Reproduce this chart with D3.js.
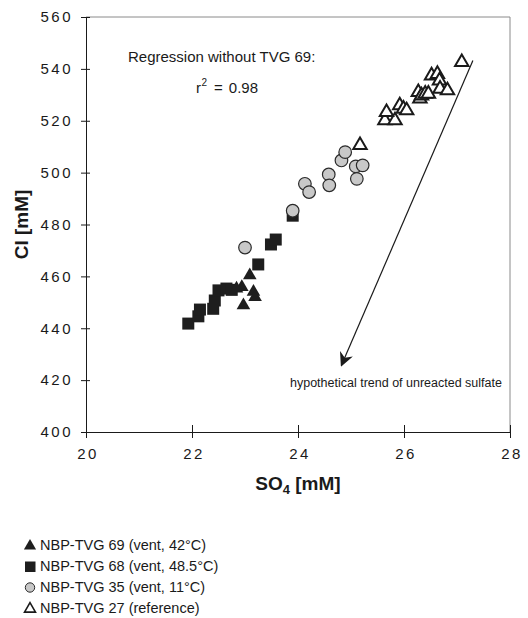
<!DOCTYPE html>
<html>
<head>
<meta charset="utf-8">
<script src="https://cdn.jsdelivr.net/npm/d3@7"></script>
<style>
  body { margin: 0; background: #fff; }
  svg text { font-family: "Liberation Sans", Arial, sans-serif; fill: #1a1a1a; }
</style>
</head>
<body>
<div id="chart"></div>
<script>
// [SO4, Cl] pairs
const tvg69 = [[23.09, 460.4], [22.94, 455.9], [22.84, 455.3], [23.16, 454], [23.19, 452], [22.97, 448.8]];
const tvg68 = [[21.93, 441.8], [22.12, 444.6], [22.15, 447.2], [22.40, 447.5], [22.43, 450.7], [22.50, 454.6],
               [22.65, 455.3], [22.75, 454.8], [23.25, 464.6], [23.49, 472.3], [23.58, 474.2], [23.9, 483.4]];
const tvg35 = [[23.0, 471.1], [23.9, 485.3], [24.13, 495.7], [24.21, 492.5], [24.58, 499.3], [24.59, 495.1],
               [24.82, 504.7], [24.89, 507.9], [25.09, 502.4], [25.22, 502.8], [25.11, 497.6]];
const tvg27 = [[25.17, 510.6], [25.64, 520.1], [25.83, 520.1], [25.67, 523.3], [25.92, 525.9], [25.99, 524.6],
               [26.05, 524], [26.27, 531], [26.30, 528.5], [26.33, 529.7], [26.40, 530.4], [26.46, 530.4],
               [26.52, 537.4], [26.63, 538], [26.67, 535.5], [26.68, 532.3], [26.82, 531.7], [27.09, 542.6]];

const xTicks = [20, 22, 24, 26, 28];
const yTicks = [400, 420, 440, 460, 480, 500, 520, 540, 560];
const legendLabels = ["NBP-TVG 69 (vent, 42\u00B0C)", "NBP-TVG 68 (vent, 48.5\u00B0C)",
                      "NBP-TVG 35 (vent, 11\u00B0C)", "NBP-TVG 27 (reference)"];
// arrow: start and end in data units
const trendArrow = [[27.3, 543.2], [24.82, 425.7]];

const W = 528, H = 618;
const margin = {top: 17, right: 18, bottom: 186, left: 86};
const width = W - margin.left - margin.right;
const height = H - margin.top - margin.bottom;

const svg = d3.select("#chart").append("svg")
    .attr("width", W)
    .attr("height", H);

const g = svg.append("g")
    .attr("transform", `translate(${margin.left},${margin.top})`);

const x = d3.scaleLinear().domain([20, 28]).range([0, width]);
const y = d3.scaleLinear().domain([400, 560]).range([height, 0]);

// frame (top and right)
g.append("path")
    .attr("d", `M0,0H${width}V${height}`)
    .attr("fill", "none")
    .attr("stroke", "#8a8a8a")
    .attr("stroke-width", 1);

g.append("g")
    .attr("transform", `translate(0,${height})`)
    .call(d3.axisBottom(x).tickValues(xTicks).tickSize(6).tickPadding(10).tickFormat(d3.format("d")))
    .call(a => a.select(".domain").attr("stroke", "#1a1a1a"))
    .call(a => a.selectAll(".tick line").attr("y1", -7).attr("stroke", "#1a1a1a"))
    .call(a => a.selectAll(".tick text").attr("dx", 1.5));

g.append("g")
    .call(d3.axisLeft(y).tickValues(yTicks).tickSize(5).tickPadding(8).tickFormat(d3.format("d")))
    .call(a => a.select(".domain").attr("stroke", "#1a1a1a"))
    .call(a => a.selectAll(".tick line").attr("x1", 4).attr("stroke", "#1a1a1a"));

svg.selectAll(".tick text")
    .attr("font-size", 15)
    .attr("letter-spacing", 2.5)
    .attr("fill", "#1a1a1a");

// axis titles
const xTitle = svg.append("text")
    .attr("x", margin.left + width / 2)
    .attr("y", 490)
    .attr("text-anchor", "middle")
    .attr("font-size", 19)
    .attr("font-weight", "bold");
xTitle.append("tspan").text("SO");
xTitle.append("tspan").attr("font-size", 13).attr("dy", 4).text("4");
xTitle.append("tspan").attr("dy", -4).text(" [mM]");

svg.append("text")
    .attr("transform", `translate(28,${margin.top + height / 2}) rotate(-90)`)
    .attr("text-anchor", "middle")
    .attr("font-size", 19)
    .attr("font-weight", "bold")
    .text("Cl [mM]");

// symbols
const triUp = d3.symbol().type(d3.symbolTriangle);

g.selectAll(".sq").data(tvg68).enter().append("rect")
    .attr("class", "sq")
    .attr("x", d => x(d[0]) - 6)
    .attr("y", d => y(d[1]) - 6)
    .attr("width", 12).attr("height", 12)
    .attr("fill", "#1e1e1e");

g.selectAll(".tri69").data(tvg69).enter().append("path")
    .attr("class", "tri69")
    .attr("transform", d => `translate(${x(d[0])},${y(d[1])})`)
    .attr("d", triUp.size(80)())
    .attr("fill", "#1e1e1e");

g.selectAll(".circ").data(tvg35).enter().append("circle")
    .attr("class", "circ")
    .attr("cx", d => x(d[0]))
    .attr("cy", d => y(d[1]))
    .attr("r", 6.3)
    .attr("fill", "#c8c8c8")
    .attr("stroke", "#2a2a2a")
    .attr("stroke-width", 1.2);

g.selectAll(".tri27").data(tvg27).enter().append("path")
    .attr("class", "tri27")
    .attr("transform", d => `translate(${x(d[0])},${y(d[1])})`)
    .attr("d", triUp.size(78)())
    .attr("fill", "#fff")
    .attr("stroke", "#1a1a1a")
    .attr("stroke-width", 2)
    .attr("stroke-linejoin", "miter");

// annotation
g.append("text")
    .attr("x", 42)
    .attr("y", 45)
    .attr("font-size", 15)
    .text("Regression without TVG 69:");

const r2 = g.append("text")
    .attr("x", 110)
    .attr("y", 76)
    .attr("font-size", 15);
r2.append("tspan").text("r");
r2.append("tspan").attr("font-size", 10).attr("dy", -7).attr("dx", 0.5).text("2");
r2.append("tspan").attr("dy", 7).attr("dx", 7).text("=");
r2.append("tspan").attr("dx", 6).text("0.98");

svg.append("defs").append("marker")
    .attr("id", "head")
    .attr("viewBox", "0 0 10 10")
    .attr("refX", 9).attr("refY", 5)
    .attr("markerWidth", 14).attr("markerHeight", 14)
    .attr("markerUnits", "userSpaceOnUse")
    .attr("orient", "auto")
    .append("path")
    .attr("d", "M0,0L10,5L0,10L3,5Z")
    .attr("fill", "#1a1a1a");

g.append("line")
    .attr("x1", x(trendArrow[0][0])).attr("y1", y(trendArrow[0][1]))
    .attr("x2", x(trendArrow[1][0])).attr("y2", y(trendArrow[1][1]))
    .attr("stroke", "#1a1a1a")
    .attr("stroke-width", 1.2)
    .attr("marker-end", "url(#head)");

g.append("text")
    .attr("x", 204)
    .attr("y", 370)
    .attr("font-size", 12.5)
    .text("hypothetical trend of unreacted sulfate");

// legend
const legend = svg.append("g").attr("transform", "translate(30,545)");
const rows = legend.selectAll(".row").data(legendLabels).enter().append("g")
    .attr("class", "row")
    .attr("transform", (d, i) => `translate(0,${i * 21})`);

rows.append("text")
    .attr("x", 10)
    .attr("y", 5)
    .attr("font-size", 14.5)
    .text(d => d);

rows.each(function(d, i) {
    const r = d3.select(this);
    if (i === 0) {
        r.append("path").attr("d", triUp.size(64)()).attr("transform", "translate(0,1)").attr("fill", "#1e1e1e");
    } else if (i === 1) {
        r.append("rect").attr("x", -5).attr("y", -4.5).attr("width", 10.5).attr("height", 10.5).attr("fill", "#1e1e1e");
    } else if (i === 2) {
        r.append("circle").attr("r", 4.7).attr("cy", 0.5).attr("fill", "#c8c8c8").attr("stroke", "#2a2a2a");
    } else {
        r.append("path").attr("d", triUp.size(52)()).attr("transform", "translate(0,1)")
            .attr("fill", "#fff").attr("stroke", "#1a1a1a").attr("stroke-width", 1.6);
    }
});
</script>
</body>
</html>
